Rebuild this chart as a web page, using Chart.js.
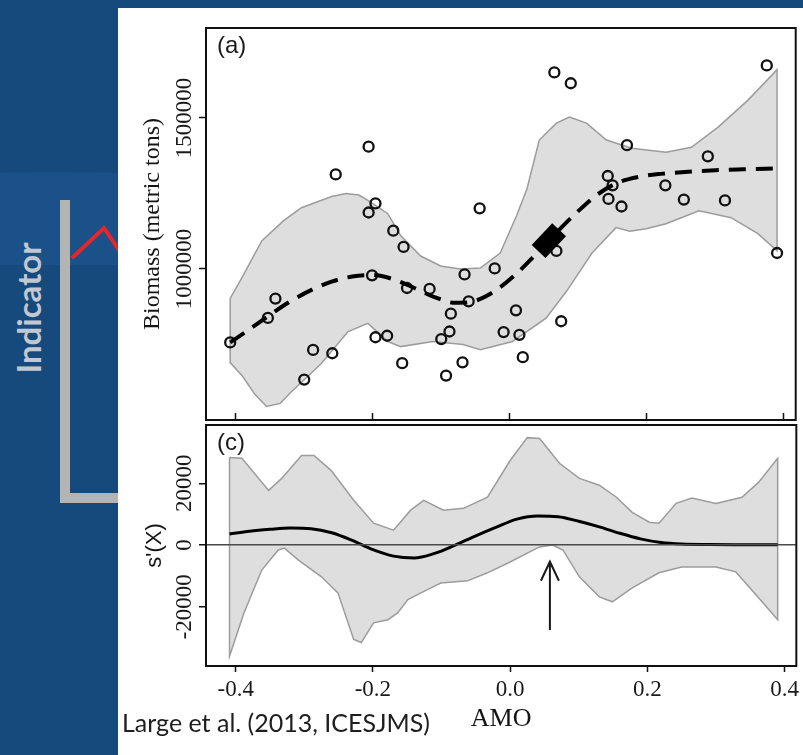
<!DOCTYPE html>
<html>
<head>
<meta charset="utf-8">
<title>Biomass vs AMO</title>
<script src="https://cdn.jsdelivr.net/npm/chart.js@4.4.1/dist/chart.umd.min.js"></script>
<style>
  html, body { margin: 0; padding: 0; }
  body { width: 803px; height: 755px; position: relative; overflow: hidden; background: #174a7c; }
  #glow { position: absolute; left: -150px; top: 172px; width: 400px; height: 93px; background: #1a5188;
          border-radius: 200px 200px 0 0 / 12px 12px 0 0; }
  #deco { position: absolute; left: 0; top: 0; }
  #indicator { position: absolute; left: 28px; top: 308px; transform: translate(-50%, -50%) rotate(-90deg);
               font: bold 33px Lato; color: #c2c8d1; white-space: nowrap; }
  #panel { position: absolute; left: 118px; top: 8px; width: 685px; height: 747px; background: #fff; }
  #chartA { position: absolute; left: 118px; top: 0; }
  #chartC { position: absolute; left: 118px; top: 420px; }
  #cite { position: absolute; left: 122px; top: 710px; font: 25px/25px Lato; color: #1e1e1e; white-space: nowrap; }
</style>
</head>
<body>
<div id="glow"></div>
<svg id="deco" width="118" height="755">
  <polyline points="65,200 65,498 118,498" fill="none" stroke="#b4b4b4" stroke-width="10"/>
  <polyline points="72,258 104,228 125,259" fill="none" stroke="#e5262b" stroke-width="4"/>
</svg>
<div id="indicator">Indicator</div>
<div id="panel"></div>
<canvas id="chartA" width="685" height="430"></canvas>
<canvas id="chartC" width="685" height="335"></canvas>
<div id="cite">Large et al. (2013, ICESJMS)</div>
<script>
// x axis (shared by both panels)
const amoMin = -0.4433;
const amoMax = 0.4172;
const amoTicks = [-0.4, -0.2, 0.0, 0.2, 0.4];

// panel (a): observed biomass
const obsAmo = [-0.408, -0.353, -0.342, -0.300, -0.287, -0.259, -0.254, -0.206, -0.206, -0.201,
                -0.196, -0.196, -0.179, -0.170, -0.157, -0.155, -0.150, -0.117, -0.100, -0.093,
                -0.088, -0.086, -0.069, -0.066, -0.060, -0.044, -0.022, -0.009, 0.009, 0.014,
                0.019, 0.065, 0.068, 0.075, 0.089, 0.143, 0.144, 0.150, 0.163, 0.171,
                0.227, 0.254, 0.289, 0.314, 0.375, 0.390];
const obsBiomass = [757000, 838000, 902000, 634000, 732000, 721000, 1313000, 1405000, 1187000, 979000,
                    1217000, 774000, 779000, 1127000, 688000, 1073000, 937000, 934000, 768000, 647000,
                    793000, 852000, 691000, 982000, 893000, 1201000, 1002000, 791000, 863000, 782000,
                    708000, 1651000, 1060000, 827000, 1615000, 1308000, 1232000, 1277000, 1207000, 1410000,
                    1277000, 1230000, 1373000, 1227000, 1674000, 1053000];

// fitted smooth
const fitAmo = [-0.408, -0.38, -0.35, -0.32, -0.29, -0.26, -0.23, -0.20, -0.17, -0.14, -0.11, -0.08, -0.05,
                -0.02, 0.01, 0.04, 0.07, 0.10, 0.13, 0.16, 0.19, 0.22, 0.26, 0.30, 0.34, 0.39];
const fitBiomass = [757000, 800000, 848000, 893000, 930000, 958000, 975000, 980000, 966000, 938000, 907000,
                    888000, 895000, 930000, 985000, 1053000, 1125000, 1192000, 1250000, 1288000, 1306000,
                    1315000, 1322000, 1327000, 1330000, 1333000];

// stretch where the slope is significant
const sigAmo = [0.042, 0.072];
const sigBiomass = [1058000, 1130000];

// confidence band of the fit
const bandUpperAmo = [-0.408, -0.39, -0.362, -0.33, -0.304, -0.26, -0.239, -0.22, -0.207, -0.178, -0.159,
                      -0.13, -0.101, -0.072, -0.043, -0.014, 0.010, 0.025, 0.043, 0.068, 0.087, 0.112,
                      0.141, 0.178, 0.228, 0.265, 0.304, 0.348, 0.39];
const bandUpperBiomass = [903000, 975000, 1093000, 1160000, 1203000, 1240000, 1250000, 1245000, 1227000,
                          1183000, 1110000, 1043000, 1010000, 1000000, 1003000, 1053000, 1177000, 1265000,
                          1427000, 1483000, 1503000, 1483000, 1427000, 1400000, 1387000, 1403000, 1470000,
                          1560000, 1660000];
const bandLowerAmo = [-0.408, -0.39, -0.372, -0.355, -0.335, -0.319, -0.275, -0.236, -0.207, -0.178, -0.159,
                      -0.112, -0.068, -0.043, 0.004, 0.053, 0.083, 0.120, 0.155, 0.175, 0.199, 0.228,
                      0.276, 0.323, 0.362, 0.39];
const bandLowerBiomass = [690000, 645000, 585000, 545000, 555000, 593000, 687000, 793000, 820000, 760000,
                          743000, 760000, 750000, 733000, 760000, 837000, 927000, 1053000, 1137000, 1125000,
                          1133000, 1150000, 1193000, 1170000, 1117000, 1060000];
const biomassMin = 500000;
const biomassMax = 1798000;
const biomassTicks = [1000000, 1500000];

// panel (c): first derivative of the smooth
const derivAmo = [-0.409, -0.38, -0.35, -0.32, -0.29, -0.26, -0.23, -0.20, -0.17, -0.14, -0.11, -0.08, -0.05,
                  -0.02, 0.01, 0.04, 0.07, 0.10, 0.13, 0.16, 0.19, 0.22, 0.25, 0.29, 0.33, 0.39];
const derivValue = [3600, 4500, 5100, 5500, 5300, 4000, 1500, -1500, -3600, -4200, -2700, 0, 3000,
                    5800, 8400, 9400, 9200, 7700, 5900, 3800, 2000, 800, 300, 150, 100, 100];
const derivUpperAmo = [-0.409, -0.391, -0.352, -0.333, -0.304, -0.286, -0.261, -0.228, -0.199, -0.170, -0.145,
                       -0.126, -0.097, -0.068, -0.033, 0.000, 0.025, 0.043, 0.072, 0.101, 0.130, 0.155,
                       0.178, 0.203, 0.217, 0.242, 0.265, 0.300, 0.338, 0.362, 0.390];
const derivUpper = [28400, 28100, 17700, 21600, 29000, 29000, 24200, 14500, 7100, 4800, 11300,
                    14500, 11300, 11900, 15500, 27400, 34800, 34500, 26500, 21600, 19400, 15500,
                    10600, 7400, 7100, 13500, 15200, 13500, 15500, 20300, 28100];
const derivLowerAmo = [-0.409, -0.388, -0.362, -0.338, -0.329, -0.309, -0.275, -0.251, -0.228, -0.217, -0.199,
                       -0.178, -0.164, -0.149, -0.130, -0.101, -0.062, -0.033, 0.000, 0.025, 0.043, 0.062,
                       0.077, 0.101, 0.130, 0.149, 0.178, 0.217, 0.250, 0.300, 0.329, 0.352, 0.390];
const derivLower = [-36000, -22000, -8100, -1600, -1000, -4800, -10300, -15500, -30600, -31600, -25200,
                    -24200, -22000, -17700, -15500, -12300, -11600, -9000, -5500, -2600, -600, 0,
                    -1600, -10300, -16800, -18400, -13900, -9000, -7100, -7100, -8700, -14500, -24200];
const derivMin = -39200;
const derivMax = 38900;
const derivTicks = [-20000, 0, 20000];

// arrow marking the turning point
const arrowAmo = 0.058;
const arrowTail = -27500;
const arrowTip = -5400;

function pairs(xs, ys) {
    return xs.map((x, i) => ({x: x, y: ys[i]}));
}

// closed outline: upper edge left to right, lower edge back
function polygon(ux, uy, lx, ly) {
    const pts = pairs(ux, uy).concat(pairs(lx, ly).reverse());
    pts.push({x: ux[0], y: uy[0]});
    return pts;
}

// box round the plot region and the panel letter
const panelFrame = {
    id: 'panelFrame',
    afterDraw(chart, args, opts) {
        const a = chart.chartArea;
        const ctx = chart.ctx;
        ctx.save();
        ctx.strokeStyle = '#111';
        ctx.lineWidth = 2;
        ctx.strokeRect(a.left, a.top, a.right - a.left, a.bottom - a.top);
        ctx.font = '24px "Liberation Sans"';
        ctx.fillStyle = '#1a1a1a';
        ctx.textBaseline = 'top';
        ctx.fillText(opts.tag, a.left + 11, a.top + 6);
        ctx.restore();
    }
};

// vertical y tick labels, read bottom to top
const sideTicks = {
    id: 'sideTicks',
    afterDraw(chart) {
        const scale = chart.scales.y;
        const ctx = chart.ctx;
        ctx.save();
        ctx.font = '23px "Liberation Serif"';
        ctx.fillStyle = '#1a1a1a';
        ctx.textAlign = 'center';
        ctx.textBaseline = 'middle';
        scale.ticks.forEach(t => {
            ctx.save();
            ctx.translate(scale.right - 21, scale.getPixelForValue(t.value));
            ctx.rotate(-Math.PI / 2);
            ctx.fillText(String(t.value), 0, 0);
            ctx.restore();
        });
        ctx.restore();
    }
};

const arrowMark = {
    id: 'arrowMark',
    afterDatasetsDraw(chart) {
        const xs = chart.scales.x;
        const ys = chart.scales.y;
        const x = xs.getPixelForValue(arrowAmo);
        const y0 = ys.getPixelForValue(arrowTail);
        const y1 = ys.getPixelForValue(arrowTip);
        const ctx = chart.ctx;
        ctx.save();
        ctx.strokeStyle = '#1a1a1a';
        ctx.lineWidth = 2;
        ctx.beginPath();
        ctx.moveTo(x, y0);
        ctx.lineTo(x, y1);
        ctx.moveTo(x - 9, y1 + 19);
        ctx.lineTo(x, y1);
        ctx.lineTo(x + 9, y1 + 19);
        ctx.stroke();
        ctx.restore();
    }
};

Chart.defaults.font.family = '"Liberation Serif"';
Chart.defaults.color = '#1a1a1a';

const bandFill = '#dedede';
const bandEdge = '#9c9c9c';

// Panel (a): biomass against AMO
new Chart(document.getElementById('chartA'), {
    type: 'scatter',
    data: {
        datasets: [
            {
                data: pairs(sigAmo, sigBiomass),
                showLine: true,
                borderColor: '#000',
                borderWidth: 19,
                borderCapStyle: 'butt',
                pointRadius: 0,
                order: 1
            },
            {
                data: pairs(fitAmo, fitBiomass),
                showLine: true,
                borderColor: '#000',
                borderWidth: 4,
                borderDash: [17, 10],
                cubicInterpolationMode: 'monotone',
                pointRadius: 0,
                order: 2
            },
            {
                data: pairs(obsAmo, obsBiomass),
                pointRadius: 5,
                borderWidth: 2.3,
                pointBorderWidth: 2.3,
                borderColor: '#111',
                pointBackgroundColor: 'rgba(0,0,0,0)',
                backgroundColor: 'rgba(0,0,0,0)',
                order: 3
            },
            {
                data: polygon(bandUpperAmo, bandUpperBiomass, bandLowerAmo, bandLowerBiomass),
                showLine: true,
                fill: 'shape',
                backgroundColor: bandFill,
                borderColor: bandEdge,
                borderWidth: 1.5,
                pointRadius: 0,
                order: 4
            }
        ]
    },
    options: {
        responsive: false,
        devicePixelRatio: 1,
        animation: false,
        events: [],
        layout: { padding: { top: 28, right: 5, bottom: 0, left: 0 } },
        plugins: {
            legend: { display: false },
            tooltip: { enabled: false },
            panelFrame: { tag: '(a)' }
        },
        scales: {
            x: {
                type: 'linear',
                min: amoMin,
                max: amoMax,
                afterBuildTicks: s => { s.ticks = amoTicks.map(v => ({value: v})); },
                ticks: { display: false },
                grid: { drawOnChartArea: false, drawTicks: true, tickLength: -7, tickColor: '#111', tickWidth: 1.5 },
                border: { display: false },
                afterFit: s => { s.height = 10; }
            },
            y: {
                min: biomassMin,
                max: biomassMax,
                afterBuildTicks: s => { s.ticks = biomassTicks.map(v => ({value: v})); },
                ticks: { display: false },
                grid: { drawOnChartArea: false, tickLength: 7, tickColor: '#111', tickWidth: 1.5 },
                border: { display: false },
                title: {
                    display: true,
                    text: 'Biomass (metric tons)',
                    font: { family: '"Liberation Serif"', size: 24 },
                    color: '#151515',
                    padding: { top: 20.6, bottom: 0 }
                },
                afterFit: s => { s.width = 88; }
            }
        }
    },
    plugins: [panelFrame, sideTicks]
});

// Panel (c): derivative of the smooth
new Chart(document.getElementById('chartC'), {
    type: 'scatter',
    data: {
        datasets: [
            {
                data: pairs(derivAmo, derivValue),
                showLine: true,
                borderColor: '#000',
                borderWidth: 3,
                cubicInterpolationMode: 'monotone',
                pointRadius: 0,
                order: 1
            },
            {
                data: polygon(derivUpperAmo, derivUpper, derivLowerAmo, derivLower),
                showLine: true,
                fill: 'shape',
                backgroundColor: bandFill,
                borderColor: bandEdge,
                borderWidth: 1.5,
                pointRadius: 0,
                order: 2
            }
        ]
    },
    options: {
        responsive: false,
        devicePixelRatio: 1,
        animation: false,
        events: [],
        layout: { padding: { top: 5, right: 5, bottom: 0, left: 0 } },
        plugins: {
            legend: { display: false },
            tooltip: { enabled: false },
            panelFrame: { tag: '(c)' }
        },
        scales: {
            x: {
                type: 'linear',
                min: amoMin,
                max: amoMax,
                afterBuildTicks: s => { s.ticks = amoTicks.map(v => ({value: v})); },
                ticks: {
                    font: { family: '"Liberation Serif"', size: 23 },
                    color: '#1a1a1a',
                    padding: 4,
                    autoSkip: false,
                    maxRotation: 0,
                    callback: v => v.toFixed(1)
                },
                grid: { drawOnChartArea: false, tickLength: 6, tickColor: '#111', tickWidth: 1.5 },
                border: { display: false },
                title: {
                    display: true,
                    text: 'AMO',
                    font: { family: '"Liberation Serif"', size: 26 },
                    color: '#151515',
                    padding: { top: 0, bottom: 20 }
                },
                afterFit: s => { s.height = 89; }
            },
            y: {
                min: derivMin,
                max: derivMax,
                afterBuildTicks: s => { s.ticks = derivTicks.map(v => ({value: v})); },
                ticks: { display: false },
                grid: {
                    z: 1,
                    color: c => (c.tick && c.tick.value === 0 ? '#4a4a4a' : 'rgba(0,0,0,0)'),
                    lineWidth: 1.5,
                    tickLength: 7,
                    tickColor: '#111',
                    tickWidth: 1.5
                },
                border: { display: false },
                title: {
                    display: true,
                    text: "s'(X)",
                    font: { family: '"Liberation Sans"', size: 22 },
                    color: '#151515',
                    padding: { top: 23.8, bottom: 0 }
                },
                afterFit: s => { s.width = 88; }
            }
        }
    },
    plugins: [panelFrame, sideTicks, arrowMark]
});
</script>
</body>
</html>
